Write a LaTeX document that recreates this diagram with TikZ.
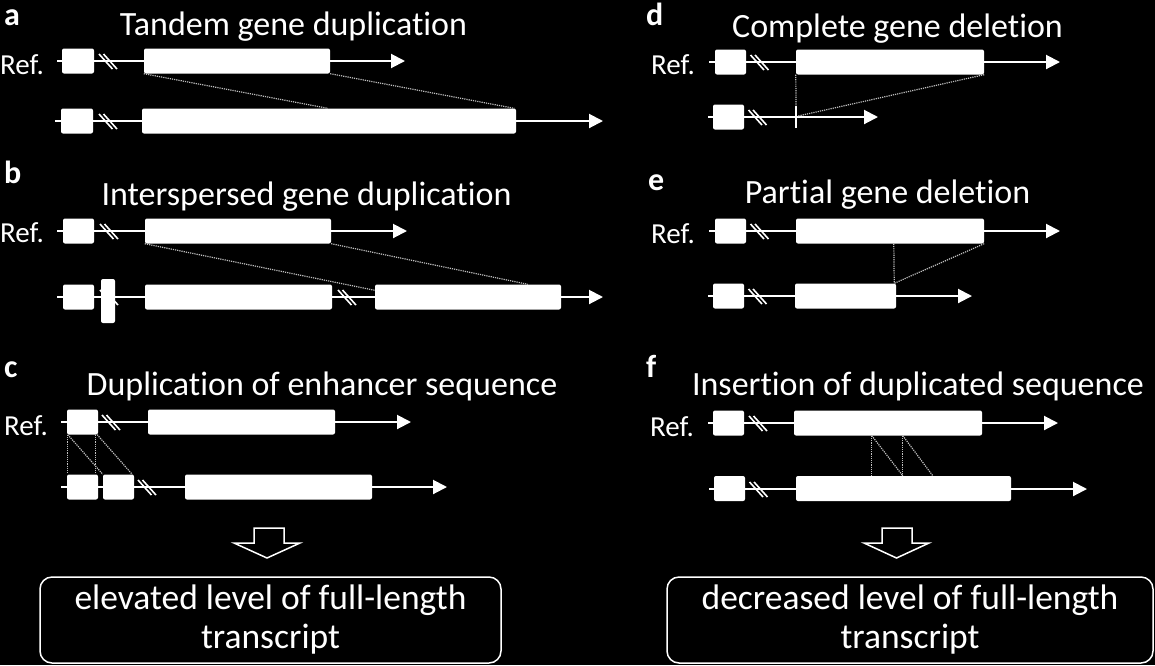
\documentclass[tikz,border=0pt]{standalone}
\usepackage{fontspec}
\setmainfont[Ligatures={NoCommon,NoContextual}]{Carlito}
\usetikzlibrary{arrows.meta,calc}
\newcommand\dslash[2]{\draw[slashln] ({#1-9},{#2-7}) -- ({#1+4.5},{#2+8}) ({#1-4.5},{#2-7}) -- ({#1+9},{#2+8});}
\begin{document}
\begin{tikzpicture}[x=1pt,y=-1pt,
  gline/.style={draw=white, line width=2pt, -{Triangle[length=14pt,width=14pt]}},
  gbox/.style={fill=white, draw=none, rounded corners=2pt, inner sep=0pt, minimum height=25pt, anchor=center},
  slashln/.style={draw=white, line width=1.6pt},
  dots/.style={draw=white!75!black, line width=1.2pt, dash pattern=on 1.2pt off 1pt},
  ttl/.style={text=white, font=\fontsize{34}{40}\selectfont, anchor=base, inner sep=0pt},
  reflbl/.style={text=white, font=\fontsize{29}{32}\selectfont, anchor=base west, inner sep=0pt},
  plbl/.style={text=white, font=\fontsize{32}{36}\selectfont\bfseries, anchor=base west, inner sep=0pt},
  hollow/.style={draw=white, line width=1.5pt, fill=black, line join=miter},
  result/.style={draw=white, line width=1.5pt, rounded corners=12pt, inner sep=0pt, text=white,
    align=center, font=\fontsize{35.5}{39}\selectfont, minimum height=86pt}]
\fill[black] (0,0) rectangle (1155,665);
\useasboundingbox (0,0) rectangle (1155,665);

% ---------------- panel a
\node[plbl] (la) at (4,25) {a};
\node[ttl] (ta) at (293.5,35) {Tandem gene duplication};
\node[reflbl] (ra) at (0,74) {Ref.};
\draw[gline] (57,61) -- (405,61);
\draw[gline] (55,121) -- (603,121);
\dslash{108}{61}
\dslash{108}{121}
\node[gbox,minimum width=32pt] (a1s) at (78,61) {};
\node[gbox,minimum width=186pt] (a1b) at (237,61) {};
\node[gbox,minimum width=32pt] (a2s) at (77,121) {};
\node[gbox,minimum width=374pt] (a2b) at (329,121) {};
\draw[dots] (a1b.south west) -- ($(a2b.north west)+(186,0)$);
\draw[dots] (a1b.south east) -- ($(a2b.north east)+(-2,0)$);

% ---------------- panel b
\node[plbl] (lb) at (4,183) {b};
\node[ttl] (tb) at (306.5,205) {Interspersed gene duplication};
\node[reflbl] (rb) at (0,242) {Ref.};
\draw[gline] (57,231) -- (407,231);
\draw[gline] (57,297) -- (603,297);
\dslash{109}{231}
\dslash{109}{297}
\dslash{347}{297}
\node[gbox,minimum width=31pt] (b1s) at (78.5,231) {};
\node[gbox,minimum width=186pt] (b1b) at (238,231) {};
\node[gbox,minimum width=31pt] (b2s) at (78.5,297) {};
\node[gbox,minimum width=14pt,minimum height=44pt] (b2t) at (108,301) {};
\node[gbox,minimum width=187pt] (b2b) at (238.5,297) {};
\node[gbox,minimum width=186pt] (b2c) at (468,297) {};
\draw[dots] (b1b.south west) -- ($(b2c.north west)+(0,6)$);
\draw[dots] (b1b.south east) -- ($(b2c.north west)+(153,0)$);

% ---------------- panel c
\node[plbl] (lc) at (4,377) {c};
\node[ttl] (tc) at (322,395) {Duplication of enhancer sequence};
\node[reflbl] (rc) at (4,435) {Ref.};
\draw[gline] (61,422) -- (411,422);
\draw[gline] (61,487) -- (447,487);
\dslash{111}{422}
\dslash{147}{487}
\node[gbox,minimum width=31pt] (c1s) at (82.5,422) {};
\node[gbox,minimum width=187pt] (c1b) at (241.5,422) {};
\node[gbox,minimum width=31pt] (c2s) at (82.5,487) {};
\node[gbox,minimum width=31pt] (c2t) at (118.5,487) {};
\node[gbox,minimum width=187pt] (c2b) at (278.5,487) {};
\draw[dots] ($(c1s.south west)+(1,0)$) -- ($(c2s.north west)+(1,0)$);
\draw[dots] ($(c1s.south east)+(-3,0)$) -- ($(c2s.north east)+(-3,0)$);
\draw[dots] ($(c1s.south west)+(1,0)$) -- (c2t.north west);
\draw[dots] ($(c1s.south east)+(-1,0)$) -- ($(c2t.north east)+(-2,0)$);

% ---------------- panel d
\node[plbl] (ld) at (646,25) {d};
\node[ttl] (td) at (897.5,37) {Complete gene deletion};
\node[reflbl] (rd) at (651,74) {Ref.};
\draw[gline] (709,62) -- (1060,62);
\draw[gline] (708,117) -- (878,117);
\dslash{759.5}{62}
\dslash{757.5}{117}
\node[gbox,minimum width=31pt] (d1s) at (730.5,62) {};
\node[gbox,minimum width=188pt] (d1b) at (890,62) {};
\node[gbox,minimum width=31pt] (d2s) at (728.5,117) {};
\coordinate (dtick) at (796,117);
\draw[white,line width=1.6pt] ($(dtick)+(0,-11)$) -- ($(dtick)+(0,11)$);
\draw[dots] (d1b.south west) -- ($(dtick)+(0,-11)$);
\draw[dots] (d1b.south east) -- ($(dtick)+(2,-1)$);

% ---------------- panel e
\node[plbl] (le) at (648,190) {e};
\node[ttl] (te) at (887.5,203) {Partial gene deletion};
\node[reflbl] (re) at (651,243) {Ref.};
\draw[gline] (709,231) -- (1060,231);
\draw[gline] (708,296) -- (972,296);
\dslash{759.5}{231}
\dslash{757.5}{296}
\node[gbox,minimum width=31pt] (e1s) at (730.5,231) {};
\node[gbox,minimum width=188pt] (e1b) at (890,231) {};
\node[gbox,minimum width=31pt] (e2s) at (728.5,296) {};
\node[gbox,minimum width=101pt] (e2b) at (845.5,296) {};
\coordinate (ejoin) at ($(e2b.north east)+(-2,0)$);
\draw[dots] ($(e1b.south west)+(98,0)$) -- (ejoin);
\draw[dots] (e1b.south east) -- (ejoin);

% ---------------- panel f
\node[plbl] (lf) at (646,377) {f};
\node[ttl] (tf) at (918,395) {Insertion of duplicated sequence};
\node[reflbl] (rf) at (650,436) {Ref.};
\draw[gline] (708,423) -- (1058,423);
\draw[gline] (709,489) -- (1087,489);
\dslash{758}{423}
\dslash{758.5}{489}
\node[gbox,minimum width=31pt] (f1s) at (728.5,423) {};
\node[gbox,minimum width=188pt] (f1b) at (888,423) {};
\node[gbox,minimum width=31pt] (f2s) at (729.5,488.5) {};
\node[gbox,minimum width=215pt] (f2b) at (903.5,488.5) {};
\draw[dots] ($(f1b.south west)+(78,0)$) -- ($(f2b.north west)+(76,0)$);
\draw[dots] ($(f1b.south west)+(109,0)$) -- ($(f2b.north west)+(107,0)$);
\draw[dots] ($(f1b.south west)+(78,0)$) -- ($(f2b.north west)+(107,0)$);
\draw[dots] ($(f1b.south west)+(109,0)$) -- ($(f2b.north west)+(137,0)$);

% ---------------- outcomes
\draw[hollow] (254,528) -- (284,528) -- (284,543) -- (300,543) -- (267,558) -- (234,543) -- (254,543) -- cycle;
\draw[hollow] (882,528) -- (912,528) -- (912,543) -- (929,543) -- (896.5,558) -- (864,543) -- (882,543) -- cycle;
\node[result,minimum width=461pt] (resL) at (270.5,620) {elevated level of full-length\\transcript};
\node[result,minimum width=486pt] (resR) at (910,620) {decreased level of full-length\\transcript};
\end{tikzpicture}
\end{document}
